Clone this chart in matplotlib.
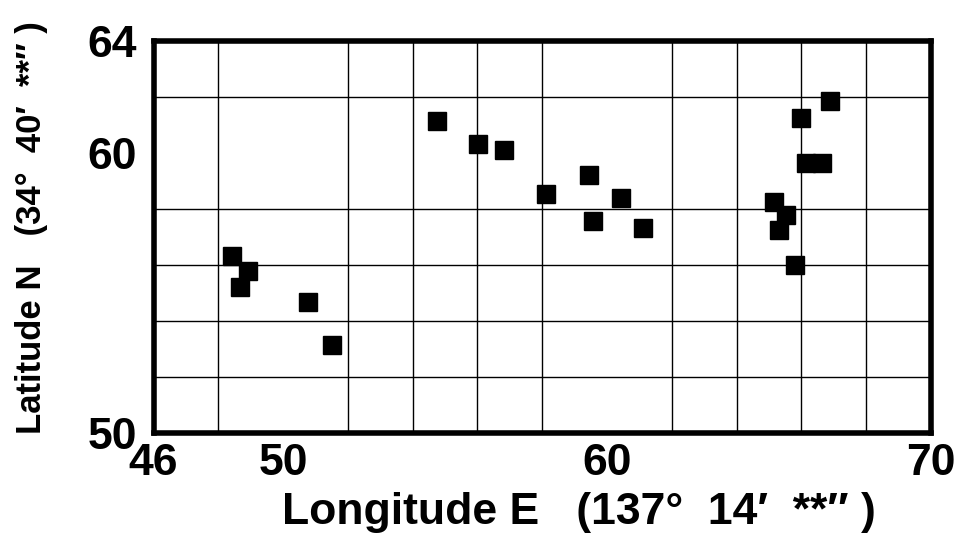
import numpy as np
import matplotlib.pyplot as plt

# 经纬度散点（分秒读数）
lon = [54.75, 56.02, 56.82, 48.42, 48.92, 48.67, 50.77, 51.51,
       58.11, 59.44, 59.56, 60.43, 61.11,
       65.15, 65.52, 65.30, 65.80, 65.98, 66.88, 66.14, 66.63]
lat = [61.14, 60.32, 60.11, 56.32, 55.79, 55.20, 54.68, 53.14,
       58.54, 59.21, 57.57, 58.39, 57.32,
       58.25, 57.79, 57.25, 56.00, 61.25, 61.86, 59.64, 59.64]

x_ticks = [46, 50, 60, 70]
y_ticks = [50, 60, 64]

plt.rcParams['font.family'] = ['Liberation Sans', 'DejaVu Sans']
plt.rcParams['font.weight'] = 'bold'

fig = plt.figure(figsize=(9.62, 5.52), dpi=100)
ax = fig.add_axes([0.1596, 0.2156, 0.8082, 0.7101])

ax.plot(lon, lat, 's', color='black', markersize=13, zorder=3)

ax.set_xlim(46, 70)
ax.set_ylim(50, 64)
ax.set_xticks(x_ticks)
ax.set_yticks(y_ticks)
ax.set_xticks(np.arange(46, 71, 2), minor=True)
ax.set_yticks(np.arange(50, 65, 2), minor=True)
ax.grid(which='minor', color='black', linewidth=1.0)
ax.tick_params(which='both', length=0)
ax.tick_params(axis='x', labelsize=32, pad=7)
ax.tick_params(axis='y', labelsize=32, pad=12)
for lab in ax.get_xticklabels() + ax.get_yticklabels():
    lab.set_fontweight('bold')
for s in ax.spines.values():
    s.set_linewidth(4)
ax.set_axisbelow(False)

ax.set_xlabel("Longitude E   (137°  14′  **″ )", fontsize=32, fontweight='bold')
ax.set_ylabel("Latitude N   (34°  40′  **″ )", fontsize=25, fontweight='bold')
ax.xaxis.set_label_coords(0.547, -0.15)
ax.yaxis.set_label_coords(-0.136, 0.525)

fig.savefig("out.png", dpi=100)
